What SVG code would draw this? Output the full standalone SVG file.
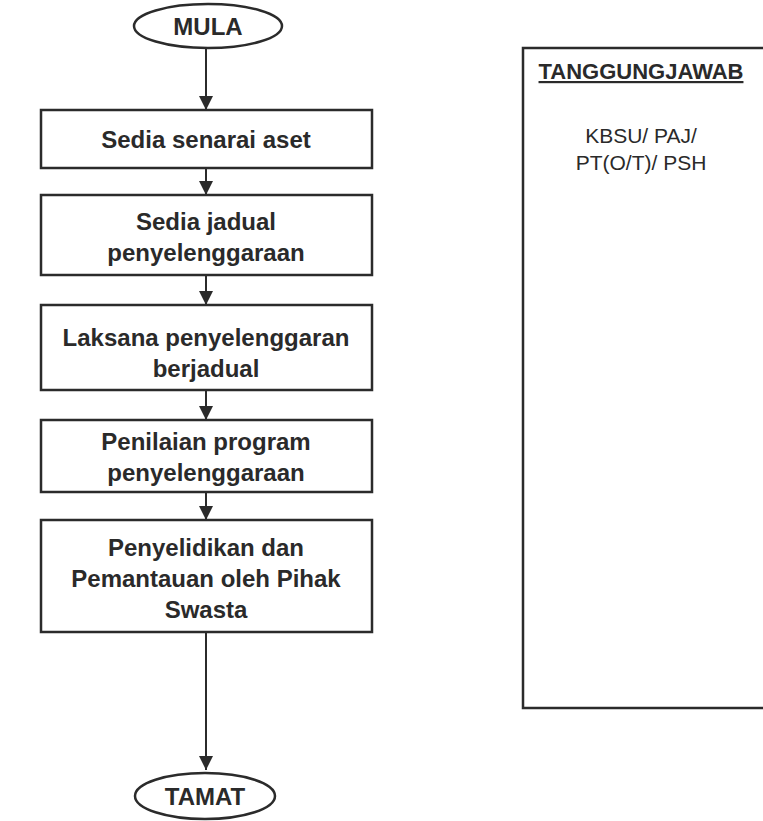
<svg xmlns="http://www.w3.org/2000/svg" width="763" height="821" viewBox="0 0 763 821">
<defs>
<style>
.shape{fill:#fff;stroke:#2b2b2b;stroke-width:2.5}
.t{font-family:"Liberation Sans",Arial,sans-serif;font-weight:bold;font-size:24px;fill:#2a2a2a;text-anchor:middle}
.h{font-family:"Liberation Sans",Arial,sans-serif;font-weight:bold;font-size:22px;fill:#2a2a2a;text-anchor:middle;text-decoration:underline}
.r{font-family:"Liberation Sans",Arial,sans-serif;font-size:21px;fill:#2a2a2a;text-anchor:middle}
.c{stroke:#2b2b2b;stroke-width:2;fill:none}
</style>
<marker id="a" viewBox="0 0 14 14" refX="14" refY="7" markerWidth="14" markerHeight="14" markerUnits="userSpaceOnUse" orient="auto"><path d="M0,0 L14,7 L0,14 z" fill="#2b2b2b"/></marker>
</defs>
<rect width="763" height="821" fill="#fff"/>
<g id="connectors">
<line class="c" x1="206" y1="48" x2="206" y2="110" marker-end="url(#a)"/>
<line class="c" x1="206" y1="168" x2="206" y2="195" marker-end="url(#a)"/>
<line class="c" x1="206" y1="275" x2="206" y2="305" marker-end="url(#a)"/>
<line class="c" x1="206" y1="390" x2="206" y2="420" marker-end="url(#a)"/>
<line class="c" x1="206" y1="492" x2="206" y2="520" marker-end="url(#a)"/>
<line class="c" x1="206" y1="632" x2="206" y2="770" marker-end="url(#a)"/>
</g>
<g id="mula"><ellipse class="shape" cx="208" cy="26" rx="74" ry="22"/><text class="t" x="208" y="35">MULA</text></g>
<g id="n1"><rect class="shape" x="41" y="110" width="331" height="58"/><text class="t" x="206" y="148">Sedia senarai aset</text></g>
<g id="n2"><rect class="shape" x="41" y="195" width="331" height="80"/><text class="t" x="206" y="230">Sedia jadual</text><text class="t" x="206" y="261">penyelenggaraan</text></g>
<g id="n3"><rect class="shape" x="41" y="305" width="331" height="85"/><text class="t" x="206" y="346">Laksana penyelenggaran</text><text class="t" x="206" y="377">berjadual</text></g>
<g id="n4"><rect class="shape" x="41" y="420" width="331" height="72"/><text class="t" x="206" y="450">Penilaian program</text><text class="t" x="206" y="481">penyelenggaraan</text></g>
<g id="n5"><rect class="shape" x="41" y="520" width="331" height="112"/><text class="t" x="206" y="556">Penyelidikan dan</text><text class="t" x="206" y="587">Pemantauan oleh Pihak</text><text class="t" x="206" y="618">Swasta</text></g>
<g id="tamat"><ellipse class="shape" cx="205" cy="796" rx="70" ry="23"/><text class="t" x="205" y="805">TAMAT</text></g>
<g id="tanggungjawab"><rect class="shape" x="523" y="48" width="260" height="660"/><text class="h" x="641" y="79">TANGGUNGJAWAB</text><text class="r" x="641" y="143">KBSU/ PAJ/</text><text class="r" x="641" y="170">PT(O/T)/ PSH</text></g>
</svg>
